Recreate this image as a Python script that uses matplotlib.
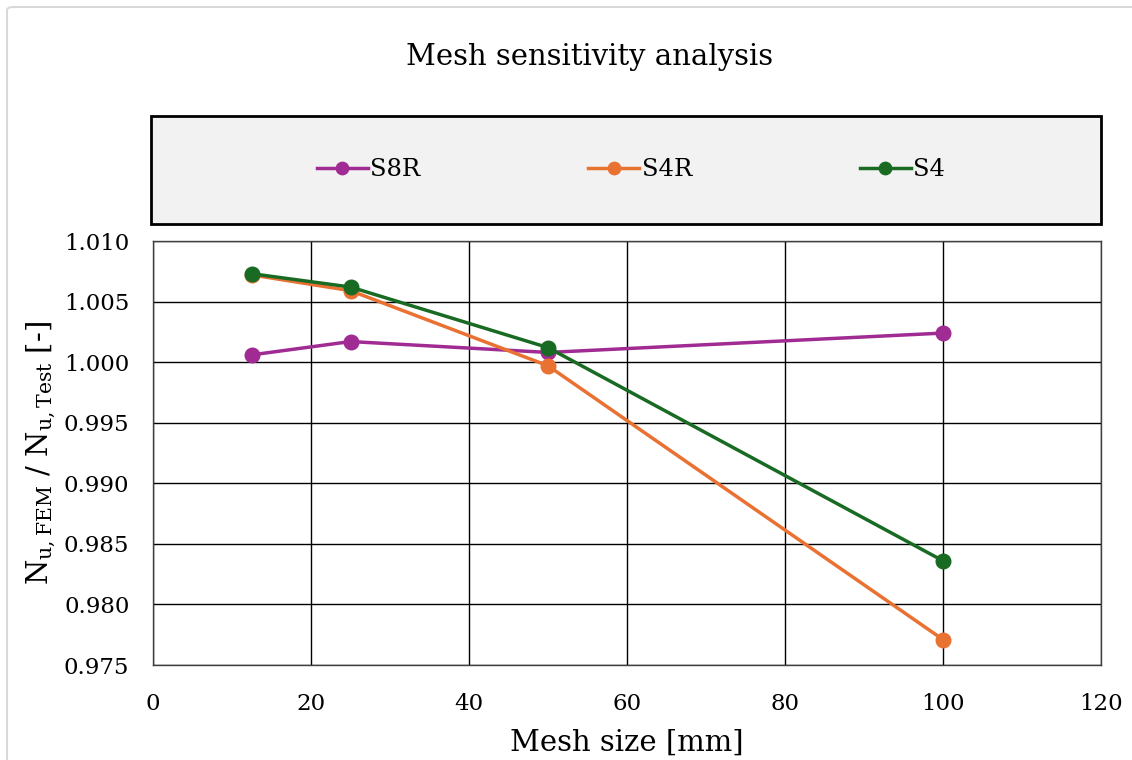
import matplotlib.pyplot as plt
from matplotlib.patches import Rectangle, FancyBboxPatch

# mesh sizes [mm] and normalised capacity for each element type
mesh_size = [12.5, 25, 50, 100]
s8r = [1.0006, 1.0017, 1.0008, 1.0024]
s4r = [1.0072, 1.0059, 0.9997, 0.9771]
s4 = [1.0073, 1.0062, 1.0012, 0.9836]

series = [("S8R", s8r, "#A02B93"), ("S4R", s4r, "#E97132"), ("S4", s4, "#196B24")]

plt.rcParams["font.family"] = ["DejaVu Serif"]
plt.rcParams["mathtext.fontset"] = "dejavuserif"

W, H = 1132, 760
fig = plt.figure(figsize=(W / 100, H / 100), dpi=100)

# chart area border
fig.patches.append(FancyBboxPatch((7 / W, -0.05), 1.2, 1 - 7 / H + 0.05,
                                  boxstyle="round,pad=0,rounding_size=0.005",
                                  transform=fig.transFigure, facecolor="none",
                                  edgecolor="#D9D9D9", linewidth=1.5))

ax = fig.add_axes([153 / W, (H - 665) / H, (1101 - 153) / W, (665 - 241) / H])

for name, vals, col in series:
    ax.plot(mesh_size, vals, color=col, lw=2.5, marker="o", ms=10.5, label=name)

ax.set_xlim(0, 120)
ax.set_ylim(0.975, 1.010)
ax.set_xticks(range(0, 121, 20))
ax.set_yticks([0.975, 0.980, 0.985, 0.990, 0.995, 1.000, 1.005, 1.010])
ax.yaxis.set_major_formatter(plt.FormatStrFormatter("%.3f"))
ax.grid(True, color="black", lw=1.0)
ax.set_axisbelow(True)
ax.tick_params(length=0, labelsize=16.5)
ax.tick_params(axis="x", pad=20)
ax.tick_params(axis="y", pad=17)
for s in ax.spines.values():
    s.set_color("#404040")
    s.set_linewidth(1.0)

ax.set_xlabel("Mesh size [mm]", fontsize=21, labelpad=10)
ax.set_ylabel(r"N$_\mathrm{u,FEM}$ / N$_\mathrm{u,Test}$ [-]", fontsize=21, labelpad=4)

fig.text(590 / W, (H - 57) / H, "Mesh sensitivity analysis", ha="center", va="center", fontsize=21)

# legend panel above the plot
fig.patches.append(Rectangle((151 / W, (H - 224) / H), (1101 - 151) / W, 108 / H,
                             transform=fig.transFigure, facecolor="#F2F2F2",
                             edgecolor="black", linewidth=2))
fig.legend(loc="center", bbox_to_anchor=(631 / W, (H - 170) / H), ncol=3,
           frameon=False, fontsize=17.5, handlelength=2.1, handletextpad=0.1,
           columnspacing=6.9, markerscale=0.85)

fig.savefig("out.png", dpi=100)
